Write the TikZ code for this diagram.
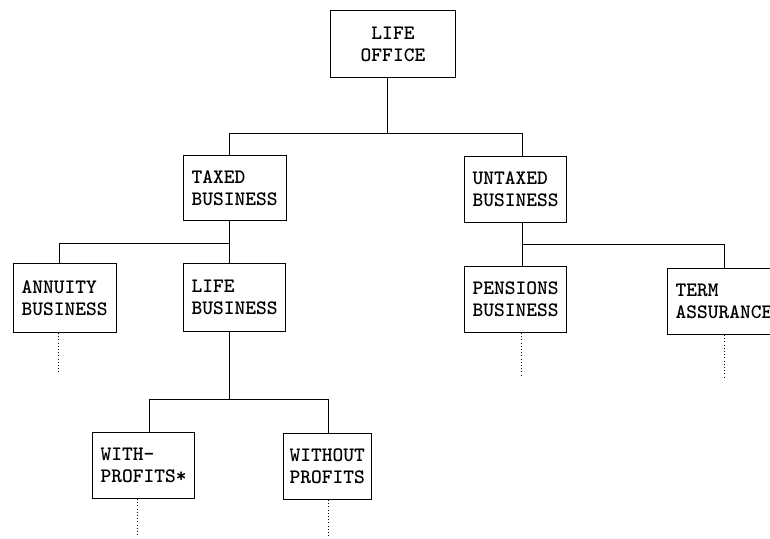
\documentclass[tikz,border=0pt]{standalone}
\begin{document}
\begin{tikzpicture}[x=1pt,y=-1pt,
  box/.style={draw, line width=1pt, anchor=north west, inner xsep=8pt, inner ysep=0pt,
    align=left, font=\ttfamily\bfseries\fontsize{20.5}{22}\selectfont},
  link/.style={line width=1pt},
  dots/.style={line width=1pt, dash pattern=on 1pt off 2.2pt}]
\useasboundingbox (0,0) rectangle (770,538);
% boxes
\node[box, align=center, text width=109pt, minimum height=67pt] (lo) at (330,10) {LIFE\\OFFICE};
\node[box, text width=87pt, minimum height=65pt] (tb) at (183,155) {TAXED\\BUSINESS};
\node[box, text width=86pt, minimum height=66pt] (ub) at (464,156) {UNTAXED\\BUSINESS};
\node[box, text width=87pt, minimum height=69pt] (ab) at (13,263) {ANNUITY\\BUSINESS};
\node[box, text width=86pt, minimum height=68pt] (lb) at (183,263) {LIFE\\BUSINESS};
\node[box, text width=86pt, minimum height=66pt] (pb) at (464,266) {PENSIONS\\BUSINESS};
\node[box, text width=117pt, minimum height=66pt] (ta) at (667,268) {TERM\\ASSURANCE};
\node[box, text width=86pt, minimum height=66pt] (wp) at (92,432) {WITH-\\PROFITS*};
\node[box, inner xsep=6pt, text width=76pt, minimum height=66pt] (wo) at (283,433) {WITHOUT\\PROFITS};
% junctions
\coordinate (a0) at (387,133);
\coordinate (a1) at (229,133);
\coordinate (a2) at (522,133);
\coordinate (b0) at (59,243);
\coordinate (b1) at (229,243);
\coordinate (c1) at (522,244);
\coordinate (c2) at (724,244);
\coordinate (d0) at (229,399);
\coordinate (d1) at (149,399);
\coordinate (d2) at (328,399);
\coordinate (e1) at (58,373);
\coordinate (e2) at (521,375);
\coordinate (e3) at (724,377);
\coordinate (e4) at (137,537);
\coordinate (e5) at (328,537);
% connectors
\draw[link] (lo.south -| a0) -- (a0);
\draw[link] (tb.north -| a1) -- (a1) -- (a2) -- (ub.north -| a2);
\draw[link] (tb.south -| b1) -- (lb.north -| b1);
\draw[link] (b1) -- (b0) -- (ab.north -| b0);
\draw[link] (ub.south -| c1) -- (pb.north -| c1);
\draw[link] (c1) -- (c2) -- (ta.north -| c2);
\draw[link] (lb.south -| d0) -- (d0);
\draw[link] (wp.north -| d1) -- (d1) -- (d2) -- (wo.north -| d2);
% dotted continuations
\draw[dots] (ab.south -| e1) -- (e1);
\draw[dots] (pb.south -| e2) -- (e2);
\draw[dots] (ta.south -| e3) -- (e3);
\draw[dots] (wp.south -| e4) -- (e4);
\draw[dots] (wo.south -| e5) -- (e5);
\end{tikzpicture}
\end{document}
